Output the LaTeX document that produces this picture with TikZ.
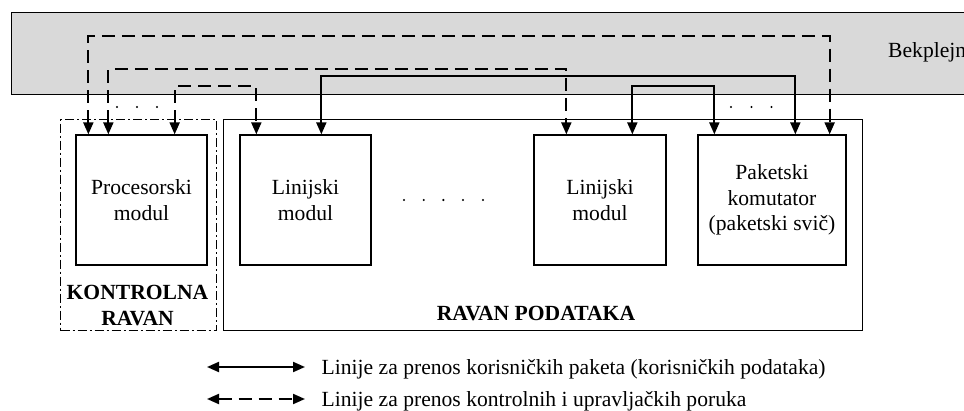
\documentclass[tikz,border=0pt]{standalone}
\usepackage{fontspec}
\setmainfont{Liberation Serif}
\usetikzlibrary{arrows.meta}
\definecolor{bpgray}{RGB}{217,217,217}
\newcommand\txtsize{\fontsize{21.6}{25.8}\selectfont}
\begin{document}
\begin{tikzpicture}[x=1pt,y=-1pt,
  font=\txtsize,
  frame/.style={draw, line width=1.3pt, inner sep=0pt},
  module/.style={frame, align=center, minimum height=130pt},
  plain/.style={inner sep=0pt},
  link/.style={line width=2pt,
    {Triangle[length=12pt,width=10pt]}-{Triangle[length=12pt,width=10pt]}},
  datalink/.style={link},
  ctrllink/.style={link, dash pattern=on 13pt off 7pt},
  bold/.style={plain, font=\txtsize\bfseries}
]
\useasboundingbox (0,0) rectangle (964,411);
\clip (0,0) rectangle (964,411);

% backplane strip
\node[frame, fill=bpgray, anchor=north west, minimum width=1000pt,
      minimum height=82pt] (bp) at (11,12) {};
\node[plain, anchor=base west] (bptext) at (888,58) {Bekplejn};

% control plane and data plane
\node[draw, line width=1.1pt, inner sep=0pt,
      dash pattern=on 9pt off 3pt on 2pt off 3pt,
      anchor=north west, minimum width=156pt, minimum height=211pt]
      (ctrl) at (60,119) {};
\node[frame, anchor=north west, minimum width=639pt, minimum height=211pt]
      (data) at (223,119) {};

% modules
\node[module, minimum width=131pt] (proc) at (141.5,200) {Procesorski\\modul};
\node[module, minimum width=131pt] (lin1) at (305.5,200) {Linijski\\modul};
\node[module, minimum width=132pt] (lin2) at (600,200) {Linijski\\modul};
\node[module, minimum width=148pt] (pak) at (772,200)
      {Paketski\\komutator\\(paketski svič)};

% plane labels
\node[bold, align=center, font=\fontsize{21.6}{25.5}\selectfont\bfseries]
      (ctrllabel) at (137.5,305.6) {KONTROLNA\\RAVAN};
\node[bold, anchor=base] (datalabel) at (536,321) {RAVAN PODATAKA};

% ellipsis dots
\foreach \x in {117,137,157,731,751.5,771.5}
  \fill (\x,107) circle[radius=1.2pt];
\foreach \x in {404,423.7,443.3,463,483}
  \fill (\x,200) circle[radius=1.2pt];

% control and management paths
\draw[ctrllink] ([xshift=13pt]proc.north west) -- ++(0,-98)
      -| ([xshift=-17pt]pak.north east);
\draw[ctrllink] ([xshift=33pt]proc.north west) -- ++(0,-65)
      -| ([xshift=33pt]lin2.north west);
\draw[ctrllink] ([xshift=-33pt]proc.north east) -- ++(0,-48)
      -| ([xshift=17pt]lin1.north west);

% user packet paths
\draw[datalink] ([xshift=82pt]lin1.north west) -- ++(0,-58)
      -| ([xshift=98pt]pak.north west);
\draw[datalink] ([xshift=99pt]lin2.north west) -- ++(0,-48)
      -| ([xshift=17pt]pak.north west);

% legend
\coordinate (l1a) at (207,367);
\coordinate (l1b) at (305,367);
\draw[datalink] (l1a) -- (l1b);
\node[plain, anchor=base west] (l1text) at (321.5,375)
      {Linije za prenos korisničkih paketa (korisničkih podataka)};
\coordinate (l2a) at (207,399);
\coordinate (l2b) at (305,399);
\draw[ctrllink] (l2a) -- (l2b);
\node[plain, anchor=base west] (l2text) at (321.5,407)
      {Linije za prenos kontrolnih i upravljačkih poruka};
\end{tikzpicture}
\end{document}
